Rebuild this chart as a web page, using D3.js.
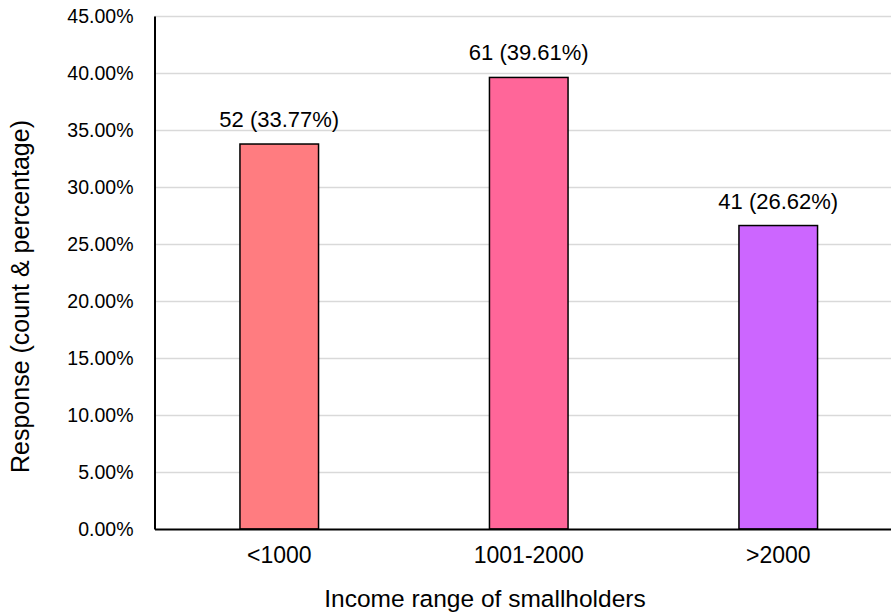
<!DOCTYPE html>
<html>
<head>
<meta charset="utf-8">
<script src="https://cdn.jsdelivr.net/npm/d3@7"></script>
<style>
  html, body { margin: 0; padding: 0; background: #fff; }
  svg { display: block; font-family: "Liberation Sans", Arial, sans-serif; }
</style>
</head>
<body>
<svg id="chart" width="891" height="615"></svg>
<script>
// Income groups and survey responses
const categories = ["<1000", "1001-2000", ">2000"];
const counts = [52, 61, 41];
const percents = [33.77, 39.61, 26.62];
const colors = ["#FF7C80", "#FF6699", "#CC66FF"];
const yTicks = [0, 5, 10, 15, 20, 25, 30, 35, 40, 45];

const svg = d3.select("#chart");
const margin = { left: 154.5, top: 16, bottom: 86 };
const plotRight = 903;
const height = 615;
const FONT = "Liberation Sans, Arial, sans-serif";

const x = d3.scaleBand()
  .domain(categories)
  .range([margin.left, plotRight])
  .paddingInner(0.685)
  .paddingOuter(0.3425);

const y = d3.scaleLinear()
  .domain([0, 45])
  .range([height - margin.bottom, margin.top]);

// Horizontal gridlines
svg.append("g")
  .selectAll("line")
  .data(yTicks.filter(d => d > 0))
  .join("line")
  .attr("x1", margin.left)
  .attr("x2", plotRight)
  .attr("y1", d => Math.round(y(d)) + 0.5)
  .attr("y2", d => Math.round(y(d)) + 0.5)
  .attr("stroke", "#d9d9d9")
  .attr("stroke-width", 1.5);

// Bars
svg.append("g")
  .selectAll("rect")
  .data(categories)
  .join("rect")
  .attr("x", d => x(d))
  .attr("y", (d, i) => y(percents[i]))
  .attr("width", x.bandwidth())
  .attr("height", (d, i) => y(0) - y(percents[i]))
  .attr("fill", (d, i) => colors[i])
  .attr("stroke", "#000")
  .attr("stroke-width", 1.5);

// Value labels
svg.append("g")
  .selectAll("text")
  .data(categories)
  .join("text")
  .attr("x", d => x(d) + x.bandwidth() / 2)
  .attr("y", (d, i) => y(percents[i]) - 17)
  .attr("text-anchor", "middle")
  .attr("font-size", 22)
  .attr("fill", "#000")
  .text((d, i) => `${counts[i]} (${percents[i].toFixed(2)}%)`);

// Y axis
const yAxis = d3.axisLeft(y)
  .tickValues(yTicks)
  .tickSize(0)
  .tickPadding(21)
  .tickFormat(d => d.toFixed(2) + "%");
const gy = svg.append("g")
  .attr("transform", `translate(${margin.left},0)`)
  .call(yAxis);
gy.attr("font-size", null).attr("font-family", null);
gy.select(".domain").attr("stroke", "#000").attr("stroke-width", 2);
gy.selectAll("text").attr("font-size", 19.5).attr("fill", "#000")
  .attr("font-family", FONT);

// X axis
const xAxis = d3.axisBottom(x).tickSize(0).tickPadding(18);
const gx = svg.append("g")
  .attr("transform", `translate(0,${y(0)})`)
  .call(xAxis);
gx.attr("font-size", null).attr("font-family", null);
gx.select(".domain").attr("stroke", "#000").attr("stroke-width", 2);
gx.selectAll("text").attr("font-size", 23).attr("fill", "#000")
  .attr("font-family", FONT);

// Axis titles
svg.append("text")
  .attr("x", 485)
  .attr("y", 607)
  .attr("text-anchor", "middle")
  .attr("font-size", 24.5)
  .text("Income range of smallholders");

svg.append("text")
  .attr("transform", "translate(28.5,296.5) rotate(-90)")
  .attr("text-anchor", "middle")
  .attr("font-size", 25)
  .text("Response (count & percentage)");
</script>
</body>
</html>
